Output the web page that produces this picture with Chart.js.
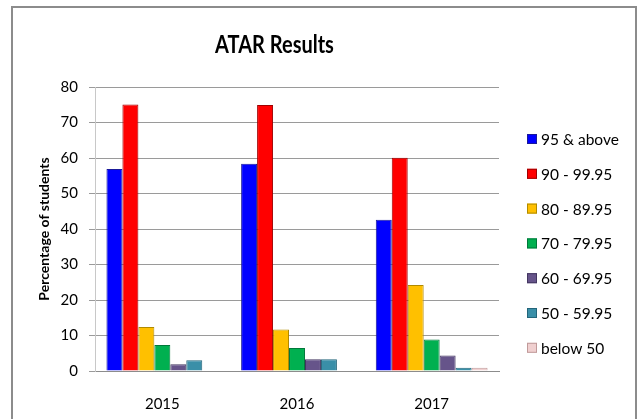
<!DOCTYPE html>
<html>
<head>
<meta charset="utf-8">
<script src="https://cdn.jsdelivr.net/npm/chart.js@4/dist/chart.umd.min.js"></script>
<style>
  html, body { margin: 0; padding: 0; background: #fff; }
  #wrap { width: 640px; height: 419px; }
</style>
</head>
<body>
<div id="wrap"><canvas id="chart" width="640" height="419"></canvas></div>
<script>
const years = ["2015", "2016", "2017"];
const bandLabels = ["95 & above", "90 - 99.95", "80 - 89.95", "70 - 79.95", "60 - 69.95", "50 - 59.95", "below 50"];
const s95    = [56.9, 58.4, 42.6];
const s90    = [75.1, 74.9, 60.1];
const s80    = [12.4, 11.7, 24.2];
const s70    = [7.3, 6.5, 8.9];
const s60    = [1.9, 3.3, 4.4];
const s50    = [3.0, 3.3, 0.9];
const sBelow = [0, 0, 0.9];

const fills   = ["#0000ff", "#ff0000", "#ffc000", "#00b050", "#66548a", "#3a8fa8", "#f0d0d0"];
const borders = ["#1a1a9a", "#a00000", "#b08a00", "#00783a", "#433660", "#23657a", "#c09a9a"];
const seriesData = [s95, s90, s80, s70, s60, s50, sBelow];

const FONT = "Lato, 'Open Sans', sans-serif";

// frame, title and legend drawn by hand
const framePlugin = {
  id: "frame",
  beforeDraw(chart) {
    const ctx = chart.ctx;
    ctx.save();
    ctx.fillStyle = "#fff";
    ctx.fillRect(0, 0, chart.width, chart.height);
    ctx.strokeStyle = "#8c8c8c";
    ctx.lineWidth = 2;
    ctx.beginPath();
    ctx.moveTo(12, 420);
    ctx.lineTo(12, 7);
    ctx.lineTo(636, 7);
    ctx.lineTo(636, 420);
    ctx.stroke();
    ctx.restore();
  },
  afterDraw(chart) {
    const ctx = chart.ctx;
    ctx.save();
    // title, squeezed a little to look like a narrow face
    ctx.font = "bold 25px " + FONT;
    ctx.fillStyle = "#000";
    ctx.textAlign = "center";
    ctx.textBaseline = "middle";
    ctx.translate(274.5, 45);
    ctx.scale(0.8, 1);
    ctx.fillText("ATAR Results", 0, 0);
    ctx.restore();

    ctx.save();
    ctx.font = "15.5px " + FONT;
    ctx.textBaseline = "middle";
    chart.data.datasets.forEach((ds, i) => {
      const y = 139 + i * 34.8;
      ctx.fillStyle = ds.backgroundColor;
      ctx.fillRect(527, y - 5, 10, 10);
      ctx.strokeStyle = ds.borderColor;
      ctx.lineWidth = 1;
      ctx.strokeRect(527.5, y - 4.5, 9, 9);
      ctx.fillStyle = "#000";
      ctx.fillText(ds.label, 541, y + 1);
    });
    ctx.restore();
  }
};

new Chart(document.getElementById("chart"), {
  type: "bar",
  data: {
    labels: years,
    datasets: bandLabels.map((lab, i) => ({
      label: lab,
      data: seriesData[i],
      backgroundColor: fills[i],
      borderColor: borders[i],
      borderWidth: 1,
      categoryPercentage: 0.83,
      barPercentage: 1.0,
    })),
  },
  options: {
    responsive: false,
    animation: false,
    devicePixelRatio: 1,
    layout: { padding: { left: 12, right: 141, top: 87, bottom: 0 } },
    plugins: {
      legend: { display: false },
      tooltip: { enabled: false },
      title: { display: false },
    },
    scales: {
      x: {
        grid: { display: false },
        border: { display: true, color: "#8c8c8c", width: 1 },
        ticks: { color: "#000", font: { family: FONT, size: 15 }, padding: 16 },
        afterFit(scale) { scale.height = 48; },
      },
      y: {
        min: 0,
        max: 80,
        ticks: { stepSize: 10, color: "#000", font: { family: FONT, size: 15 }, padding: 11 },
        grid: { color: "#9a9a9a", lineWidth: 1, tickLength: 6, drawTicks: true },
        border: { display: true, color: "#c8c8c8", width: 1 },
        title: {
          display: true,
          text: "Percentage of students",
          color: "#000",
          font: { family: FONT, size: 14, weight: "bold" },
          padding: { top: 24, bottom: 0 },
        },
        afterFit(scale) { scale.width = 83; },
      },
    },
  },
  plugins: [framePlugin],
});
</script>
</body>
</html>
